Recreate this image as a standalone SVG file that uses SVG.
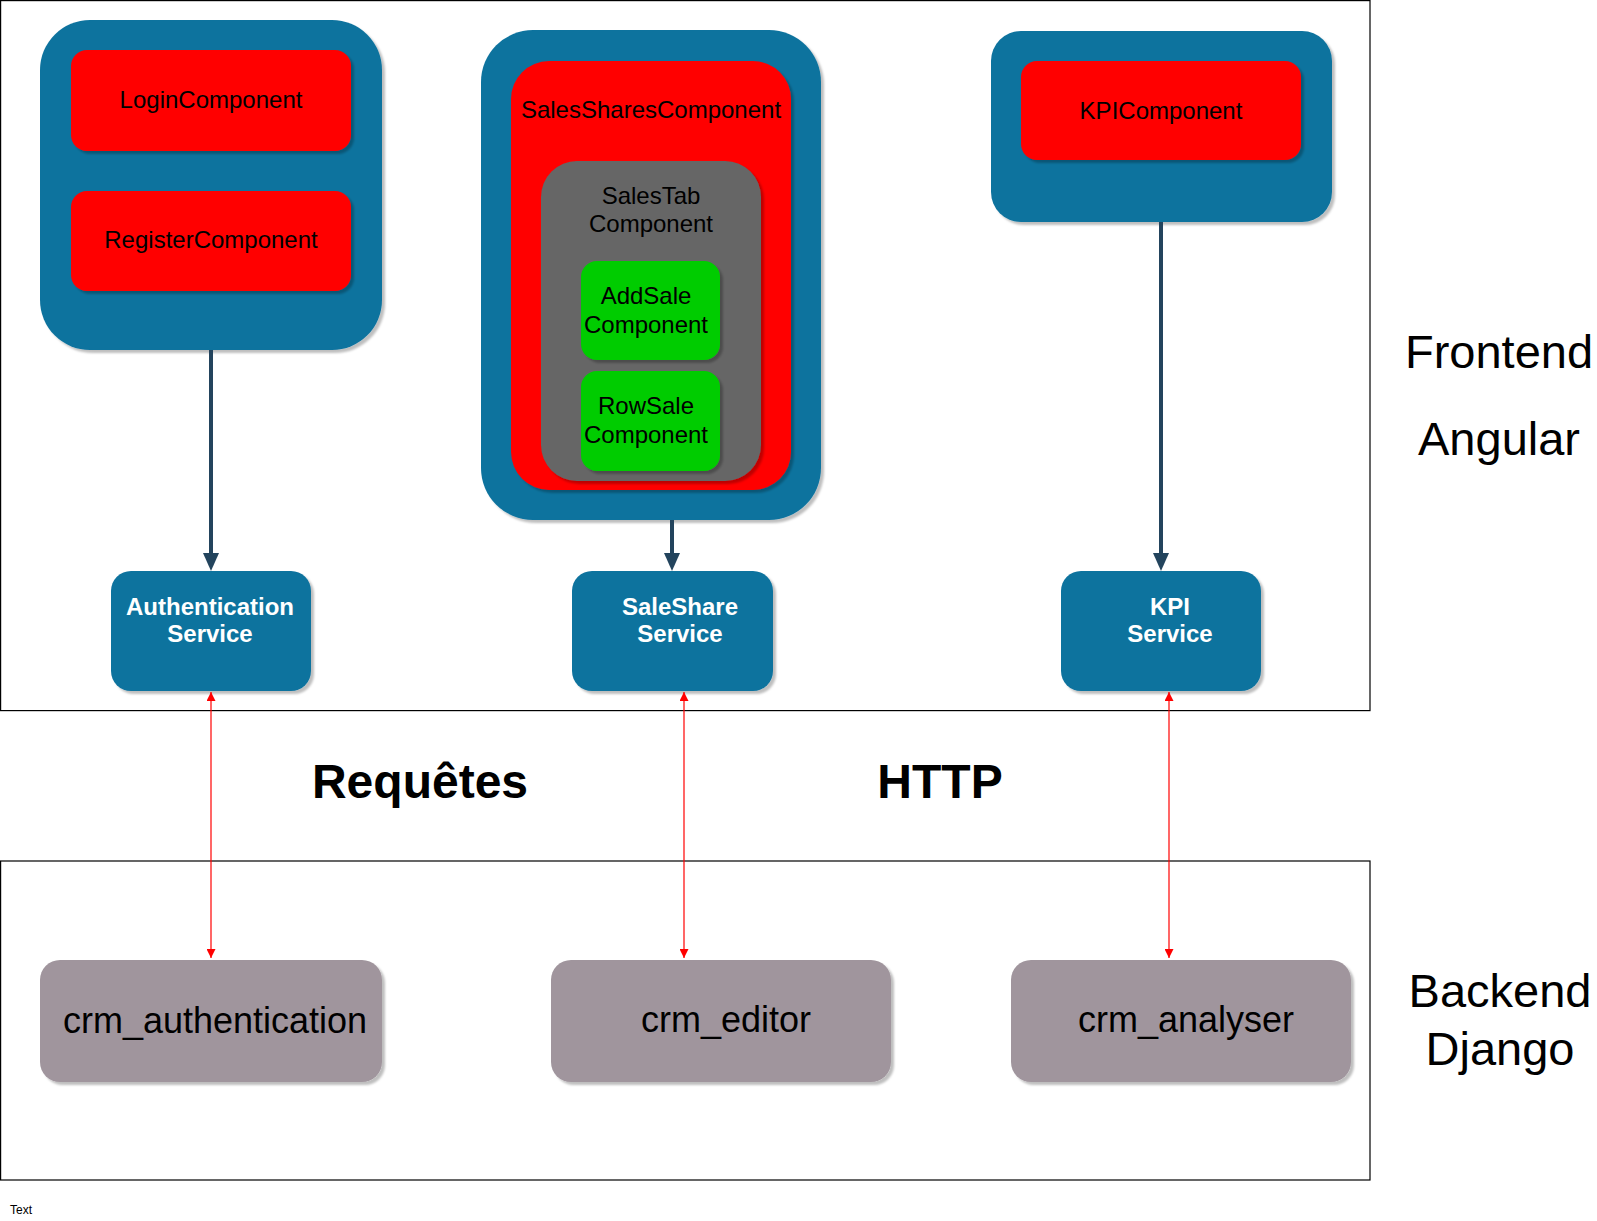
<svg xmlns="http://www.w3.org/2000/svg" width="1597" height="1221" viewBox="0 0 1597 1221">
<style>
text{font-family:"Liberation Sans",Arial,sans-serif;text-anchor:middle}
.frame{fill:#ffffff;stroke:#000000;stroke-width:1.2}
.blue{fill:#10739E;filter:url(#sh)}
.red{fill:#FF0000;filter:url(#sh)}
.gray{fill:#666666;filter:url(#sh)}
.green{fill:#00CC00;filter:url(#sh)}
.mauve{fill:#A0959D;filter:url(#sh)}
.t24{font-size:24px;fill:#000000}
.svc{font-size:24px;font-weight:bold;fill:#ffffff}
.mod{font-size:36px;fill:#000000}
.big{font-size:47px;fill:#000000}
.bold{font-size:48px;font-weight:bold;fill:#000000}
.dark{stroke:#23445D;stroke-width:4;fill:none;marker-end:url(#ad)}
.http{stroke:#FF0000;stroke-width:1.2;fill:none;marker-start:url(#ar);marker-end:url(#ar)}
</style>
<defs>
<filter id="sh" x="-10%" y="-10%" width="130%" height="130%">
<feDropShadow dx="3" dy="3" stdDeviation="0.8" flood-color="#000000" flood-opacity="0.25"/>
</filter>
<marker id="ad" viewBox="0 0 18 16" refX="7" refY="8" markerWidth="18" markerHeight="16" markerUnits="userSpaceOnUse" orient="auto">
<path d="M0,0 L18,8 L0,16 z" fill="#23445D"/>
</marker>
<marker id="ar" viewBox="0 0 9 9" refX="9" refY="4.5" markerWidth="9" markerHeight="9" markerUnits="userSpaceOnUse" orient="auto-start-reverse">
<path d="M0,0 L9,4.5 L0,9 z" fill="#FF0000"/>
</marker>
</defs>
<rect x="0" y="0" width="1597" height="1221" fill="#ffffff"/>

<g id="frontend-frame">
<rect class="frame" x="0.6" y="0.6" width="1369.4" height="710"/>
</g>
<g id="backend-frame">
<rect class="frame" x="0.6" y="861" width="1369.4" height="319"/>
</g>

<g id="auth-module">
<rect class="blue" x="40" y="20" width="342" height="330" rx="50" ry="50"/>
</g>
<g id="login-component">
<rect class="red" x="71" y="50" width="280" height="101" rx="16" ry="16"/>
<text class="t24" x="211" y="108">LoginComponent</text>
</g>
<g id="register-component">
<rect class="red" x="71" y="191" width="280" height="100" rx="16" ry="16"/>
<text class="t24" x="211" y="248">RegisterComponent</text>
</g>

<g id="sales-module">
<rect class="blue" x="481" y="30" width="340" height="490" rx="52" ry="52"/>
</g>
<g id="salesshares-component">
<rect class="red" x="511" y="61" width="280" height="429" rx="38" ry="38"/>
<text class="t24" x="651" y="118">SalesSharesComponent</text>
</g>
<g id="salestab-component">
<rect class="gray" x="541" y="161" width="220" height="320" rx="36" ry="36"/>
<text class="t24" x="651" y="204">SalesTab</text>
<text class="t24" x="651" y="232">Component</text>
</g>
<g id="addsale-component">
<rect class="green" x="581" y="261" width="139" height="99" rx="16" ry="16"/>
<text class="t24" x="646" y="304">AddSale</text>
<text class="t24" x="646" y="333">Component</text>
</g>
<g id="rowsale-component">
<rect class="green" x="581" y="371" width="139" height="100" rx="16" ry="16"/>
<text class="t24" x="646" y="414">RowSale</text>
<text class="t24" x="646" y="443">Component</text>
</g>

<g id="kpi-module">
<rect class="blue" x="991" y="31" width="341" height="191" rx="30" ry="30"/>
</g>
<g id="kpi-component">
<rect class="red" x="1021" y="61" width="280" height="99" rx="16" ry="16"/>
<text class="t24" x="1161" y="119">KPIComponent</text>
</g>

<g id="authentication-service">
<rect class="blue" x="111" y="571" width="200" height="120" rx="20" ry="20"/>
<text class="svc" x="210" y="615">Authentication</text>
<text class="svc" x="210" y="642">Service</text>
</g>
<g id="saleshare-service">
<rect class="blue" x="572" y="571" width="201" height="120" rx="20" ry="20"/>
<text class="svc" x="680" y="615">SaleShare</text>
<text class="svc" x="680" y="642">Service</text>
</g>
<g id="kpi-service">
<rect class="blue" x="1061" y="571" width="200" height="120" rx="20" ry="20"/>
<text class="svc" x="1170" y="615">KPI</text>
<text class="svc" x="1170" y="642">Service</text>
</g>

<g id="crm-authentication">
<rect class="mauve" x="40" y="960" width="342" height="122" rx="20" ry="20"/>
<text class="mod" x="215" y="1033">crm_authentication</text>
</g>
<g id="crm-editor">
<rect class="mauve" x="551" y="960" width="340" height="122" rx="20" ry="20"/>
<text class="mod" x="726" y="1032">crm_editor</text>
</g>
<g id="crm-analyser">
<rect class="mauve" x="1011" y="960" width="340" height="122" rx="20" ry="20"/>
<text class="mod" x="1186" y="1032">crm_analyser</text>
</g>

<g id="labels">
<text class="big" x="1499" y="368">Frontend</text>
<text class="big" x="1499" y="455">Angular</text>
<text class="big" x="1500" y="1007">Backend</text>
<text class="big" x="1500" y="1065">Django</text>
<text class="bold" x="420" y="798">Requêtes</text>
<text class="bold" x="940" y="798">HTTP</text>
<text x="21" y="1214" style="font-size:12px;fill:#000000">Text</text>
</g>

<g id="connectors">
<path class="dark" d="M211,350 L211,560"/>
<path class="dark" d="M672,520 L672,560"/>
<path class="dark" d="M1161,222 L1161,560"/>
<path class="http" d="M211,692 L211,958"/>
<path class="http" d="M684,692 L684,958"/>
<path class="http" d="M1169,692 L1169,958"/>
</g>
</svg>
